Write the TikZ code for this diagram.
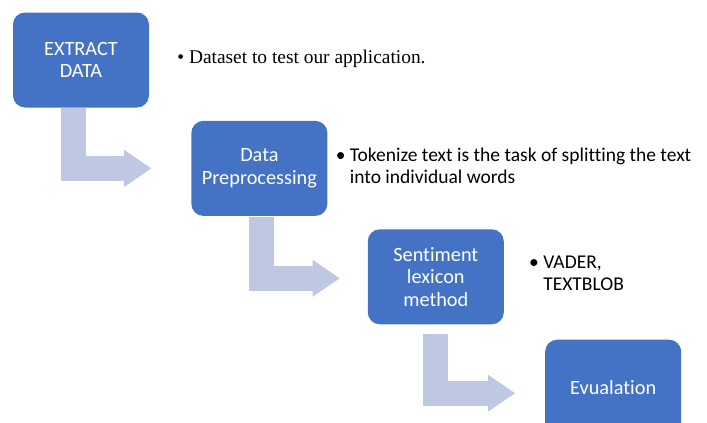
\documentclass[tikz,border=0pt]{standalone}
\usepackage{fontspec}
\setmainfont{Carlito}[Ligatures=NoCommon]
\newfontfamily\serifnote{Liberation Serif}
\usepackage{tikz}
\usetikzlibrary{positioning, arrows.meta}
\definecolor{boxblue}{RGB}{68,114,196}
\definecolor{arrowblue}{RGB}{190,200,227}
\tikzstyle{stage} = [rectangle, rounded corners=12pt, minimum width=136pt, minimum height=95pt, align=center, fill=boxblue, text=white, font=\fontsize{20.3}{22.5}\selectfont]
\tikzstyle{note} = [inner sep=0pt, align=left, text=black, font=\fontsize{19.5}{22}\selectfont]
\tikzstyle{bentarrow} = [draw=arrowblue, line width=25pt, line join=miter, -{Triangle[length=27pt, width=37pt, line width=0pt]}]

\begin{document}
\begin{tikzpicture}[x=1pt, y=-1pt]
    \useasboundingbox (0,0) rectangle (707,423);
    \clip (0,0) rectangle (707,423);

    \node (pro1) [stage] at (81,60) {EXTRACT\\DATA};
    \node (pro2) [stage, below right=13pt and 42pt of pro1] {Data\\Preprocessing};
    \node (pro3) [stage, below right=13pt and 40pt of pro2] {Sentiment\\lexicon\\method};
    \node (pro4) [stage, below right=15pt and 41pt of pro3] {Evualation};

    \node (txt1) [note, font=\serifnote\fontsize{19.4}{22}\selectfont, right=28pt of pro1, yshift=1pt] {\textbullet\ Dataset to test our application.};
    \node (txt2) [note, right=8pt of pro2, yshift=3pt] {\textbullet\ Tokenize text is the task of splitting the text\\\hphantom{\textbullet\ }into individual words};
    \node (txt3) [note, right=25pt of pro3, yshift=3.5pt] {\textbullet\ VADER,\\\hphantom{\textbullet\ }TEXTBLOB};

    \draw [bentarrow] ([xshift=-7.5pt]pro1.south) |- ([xshift=-40pt]pro2.west);
    \draw [bentarrow] ([xshift=2.5pt, yshift=-0.5pt]pro2.south) |- ([xshift=-28pt, yshift=-1.5pt]pro3.west);
    \draw [bentarrow] ([yshift=-9pt]pro3.south) |- ([xshift=-30pt, yshift=-6pt]pro4.west);
\end{tikzpicture}
\end{document}
